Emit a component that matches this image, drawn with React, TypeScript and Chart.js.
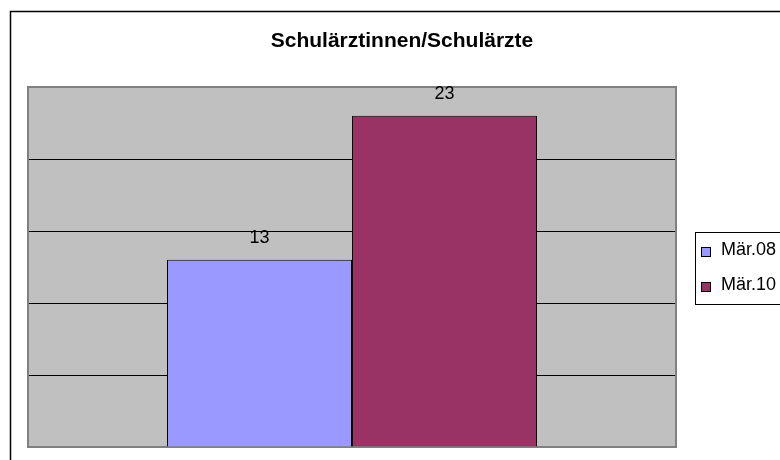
import { useEffect, useRef } from "react";
import { Chart, registerables } from "chart.js";

Chart.register(...registerables);

const chartTitle = "Schulärztinnen/Schulärzte";
const categories = [""];
const seriesLabels = ["Mär.08", "Mär.10"];
const seriesValues = [[13], [23]];
const seriesColors = ["#9999FF", "#993366"];
const yMin = 0;
const yMax = 25;
const yStep = 5;

const FONT = "'Liberation Sans', Arial, sans-serif";

const decorPlugin = {
  id: "decor",
  beforeDraw(chart: any) {
    const { ctx, chartArea } = chart;
    ctx.save();
    ctx.fillStyle = "#ffffff";
    ctx.fillRect(0, 0, chart.width, chart.height);
    // outer frame
    ctx.strokeStyle = "#000000";
    ctx.lineWidth = 1.5;
    ctx.strokeRect(10.5, 11.5, 900, 600);
    // plot background
    ctx.fillStyle = "#C0C0C0";
    ctx.fillRect(chartArea.left, chartArea.top, chartArea.right - chartArea.left, chartArea.bottom - chartArea.top);
    // title
    ctx.fillStyle = "#000000";
    ctx.font = `bold 21px ${FONT}`;
    ctx.textAlign = "center";
    ctx.textBaseline = "alphabetic";
    ctx.fillText(chartTitle, 402, 47);
    ctx.restore();
  },
  beforeDatasetsDraw(chart: any) {
    const { ctx, chartArea } = chart;
    ctx.save();
    ctx.strokeStyle = "#808080";
    ctx.lineWidth = 2;
    ctx.strokeRect(chartArea.left, chartArea.top, chartArea.right - chartArea.left, chartArea.bottom - chartArea.top);
    ctx.restore();
  },
  afterDatasetsDraw(chart: any) {
    const { ctx } = chart;
    ctx.save();
    ctx.fillStyle = "#000000";
    ctx.font = `18px ${FONT}`;
    ctx.textAlign = "center";
    ctx.textBaseline = "alphabetic";
    chart.data.datasets.forEach((ds: any, i: number) => {
      const meta = chart.getDatasetMeta(i);
      meta.data.forEach((el: any, j: number) => {
        ctx.fillText(String(ds.data[j]), el.x, el.y - 17);
      });
    });
    // legend
    const lx = 695.5;
    const ly = 232.5;
    ctx.strokeStyle = "#000000";
    ctx.lineWidth = 1;
    ctx.fillStyle = "#ffffff";
    ctx.fillRect(lx, ly, 200, 72);
    ctx.strokeRect(lx, ly, 200, 72);
    ctx.font = `18px ${FONT}`;
    ctx.textAlign = "left";
    seriesLabels.forEach((lab, i) => {
      const base = 254.5 + i * 35;
      ctx.fillStyle = seriesColors[i];
      ctx.fillRect(701.5, base - 7, 9, 9);
      ctx.strokeStyle = "#000000";
      ctx.strokeRect(701.5, base - 7, 9, 9);
      ctx.fillStyle = "#000000";
      ctx.fillText(lab, 721, base);
    });
    ctx.restore();
  },
};

export default function App() {
  const ref = useRef<HTMLCanvasElement | null>(null);
  useEffect(() => {
    if (!ref.current) return;
    const chart = new Chart(ref.current, {
      type: "bar",
      data: {
        labels: categories,
        datasets: seriesLabels.map((lab, i) => ({
          label: lab,
          data: seriesValues[i],
          backgroundColor: seriesColors[i],
          borderColor: "#000000",
          borderWidth: 1,
          categoryPercentage: 0.571,
          barPercentage: 1,
        })),
      },
      options: {
        responsive: false,
        devicePixelRatio: 1,
        animation: false,
        layout: { padding: { left: 28, top: 87, right: 104, bottom: 13 } },
        plugins: {
          legend: { display: false },
          title: { display: false },
          tooltip: { enabled: false },
        },
        scales: {
          x: { display: false },
          y: {
            min: yMin,
            max: yMax,
            ticks: { display: false, stepSize: yStep },
            border: { display: false },
            grid: { color: "#000000", lineWidth: 1, drawTicks: false },
            afterFit: (s: any) => {
              s.width = 0;
            },
          },
        },
      },
      plugins: [decorPlugin],
    });
    return () => chart.destroy();
  }, []);
  return (
    <div style={{ position: "fixed", left: 0, top: 0, width: 780, height: 460 }}>
      <canvas ref={ref} width={780} height={460} style={{ display: "block" }} />
    </div>
  );
}
